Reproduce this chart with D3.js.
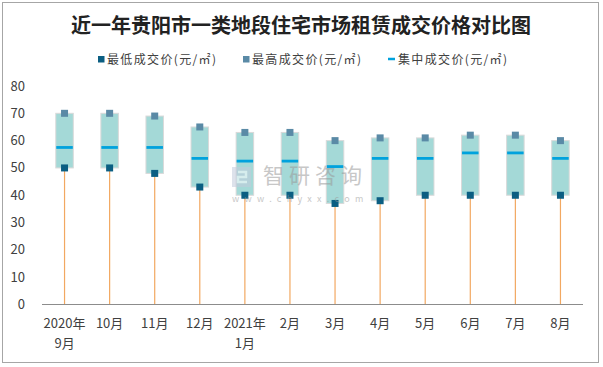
<!DOCTYPE html>
<html><head><meta charset="utf-8">
<script src="https://cdn.jsdelivr.net/npm/d3@7"></script>
<style>body{margin:0;background:#fff}</style>
</head><body>
<script>
const categories = ["2020年\n9月","10月","11月","12月","2021年\n1月","2月","3月","4月","5月","6月","7月","8月"];
const lowValues = [50,50,48,43,40,40,37,38,40,40,40,40];
const highValues = [70,70,69,65,63,63,60,61,61,62,62,60];
const midValues = [57.5,57.5,57.5,53.5,52.5,52.5,50.5,53.5,53.5,55.5,55.5,53.5];
const yTicks = [0,10,20,30,40,50,60,70,80];
const seriesNames = ["最低成交价(元/㎡)","最高成交价(元/㎡)","集中成交价(元/㎡)"];

const W = 603, H = 367;
const svg = d3.select("body").append("svg").attr("width", W).attr("height", H);
const font = "'Noto Sans CJK SC', 'Noto Sans', sans-serif";

svg.append("rect").attr("x",2.5).attr("y",2.5).attr("width",596).attr("height",360)
  .attr("fill","#fff").attr("stroke","#a6a6a6").attr("stroke-width",1);

svg.append("text").attr("x",301).attr("y",33).attr("text-anchor","middle")
  .attr("font-family",font).attr("font-weight","bold").attr("font-size",20).attr("fill","#222")
  .text("近一年贵阳市一类地段住宅市场租赁成交价格对比图");

const x = d3.scaleBand().domain(d3.range(categories.length)).range([42,583]);
const y = d3.scaleLinear().domain([0,80]).range([304.5,86]);

// y tick labels
svg.append("g").selectAll("text").data(yTicks).join("text")
  .attr("x",25).attr("y",d=>y(d)+4.5).attr("text-anchor","end")
  .attr("font-family",font).attr("font-size",13).attr("fill","#404040").text(d=>d);

// orange drop lines
svg.append("g").selectAll("line").data(lowValues).join("line")
  .attr("x1",(d,i)=>x(i)+x.bandwidth()/2).attr("x2",(d,i)=>x(i)+x.bandwidth()/2)
  .attr("y1",y(0)).attr("y2",d=>y(d))
  .attr("stroke","#f2a861").attr("stroke-width",1.2);

// axis line
svg.append("line").attr("x1",42).attr("x2",583).attr("y1",y(0)).attr("y2",y(0))
  .attr("stroke","#8c8c8c").attr("stroke-width",1);

const bw = 17.5;
// boxes
svg.append("g").selectAll("rect").data(categories).join("rect")
  .attr("x",(d,i)=>x(i)+x.bandwidth()/2-bw/2).attr("width",bw)
  .attr("y",(d,i)=>y(highValues[i])).attr("height",(d,i)=>y(lowValues[i])-y(highValues[i]))
  .attr("fill","#a4d9d7").attr("stroke","#d9d9d9").attr("stroke-width",1);

// median lines
svg.append("g").selectAll("line").data(midValues).join("line")
  .attr("x1",(d,i)=>x(i)+x.bandwidth()/2-bw/2+0.5).attr("x2",(d,i)=>x(i)+x.bandwidth()/2+bw/2-0.5)
  .attr("y1",d=>y(d)).attr("y2",d=>y(d))
  .attr("stroke","#00a2dd").attr("stroke-width",2.8);

const ms = 7;
svg.append("g").selectAll("rect").data(highValues).join("rect")
  .attr("x",(d,i)=>x(i)+x.bandwidth()/2-ms/2).attr("y",d=>y(d)-ms/2)
  .attr("width",ms).attr("height",ms).attr("fill","#5a8aa6");
svg.append("g").selectAll("rect").data(lowValues).join("rect")
  .attr("x",(d,i)=>x(i)+x.bandwidth()/2-ms/2).attr("y",d=>y(d)-ms/2)
  .attr("width",ms).attr("height",ms).attr("fill","#0b5e82");

// watermark (semi-transparent, on top)
const wm = svg.append("g").attr("opacity",0.55);
wm.append("rect").attr("x",232).attr("y",167).attr("width",19).attr("height",20).attr("fill","#c3cbdc");
wm.append("path").attr("d","M238,172 H246 V177 H238 V182 H247").attr("fill","none").attr("stroke","#fff").attr("stroke-width",2.5);
wm.append("text").attr("x",263).attr("y",183).attr("font-family",font).attr("font-size",21)
  .attr("fill","#9a9a9a").attr("letter-spacing",5).text("智研咨询");
wm.append("text").attr("x",232).attr("y",202).attr("font-family",font).attr("font-size",9)
  .attr("fill","#9a9a9a").attr("letter-spacing",5.3).text("www.chyxx.com");

// x labels
const xl = svg.append("g").selectAll("text").data(categories).join("text")
  .attr("text-anchor","middle").attr("font-family",font).attr("font-size",13).attr("fill","#404040");
xl.each(function(d,i){
  const parts = d.split("\n");
  d3.select(this).selectAll("tspan").data(parts).join("tspan")
    .attr("x", x(i)+x.bandwidth()/2).attr("y",(p,j)=>328+j*20).text(p=>p);
});

// legend
const leg = svg.append("g").attr("font-family",font).attr("font-size",12).attr("fill","#404040");
const lx = [98,243,388];
leg.append("rect").attr("x",lx[0]).attr("y",56).attr("width",6.5).attr("height",6.5).attr("fill","#0b5e82");
leg.append("rect").attr("x",lx[1]).attr("y",56).attr("width",6.5).attr("height",6.5).attr("fill","#5a8aa6");
leg.append("line").attr("x1",lx[2]).attr("x2",lx[2]+7).attr("y1",59).attr("y2",59).attr("stroke","#00a2dd").attr("stroke-width",2.5);
seriesNames.forEach((s,i)=>{
  leg.append("text").attr("x",lx[i]+(i===2?10:9)).attr("y",63.5)
    .attr("textLength",109).attr("lengthAdjust","spacing").text(s);
});
</script>
</body></html>
